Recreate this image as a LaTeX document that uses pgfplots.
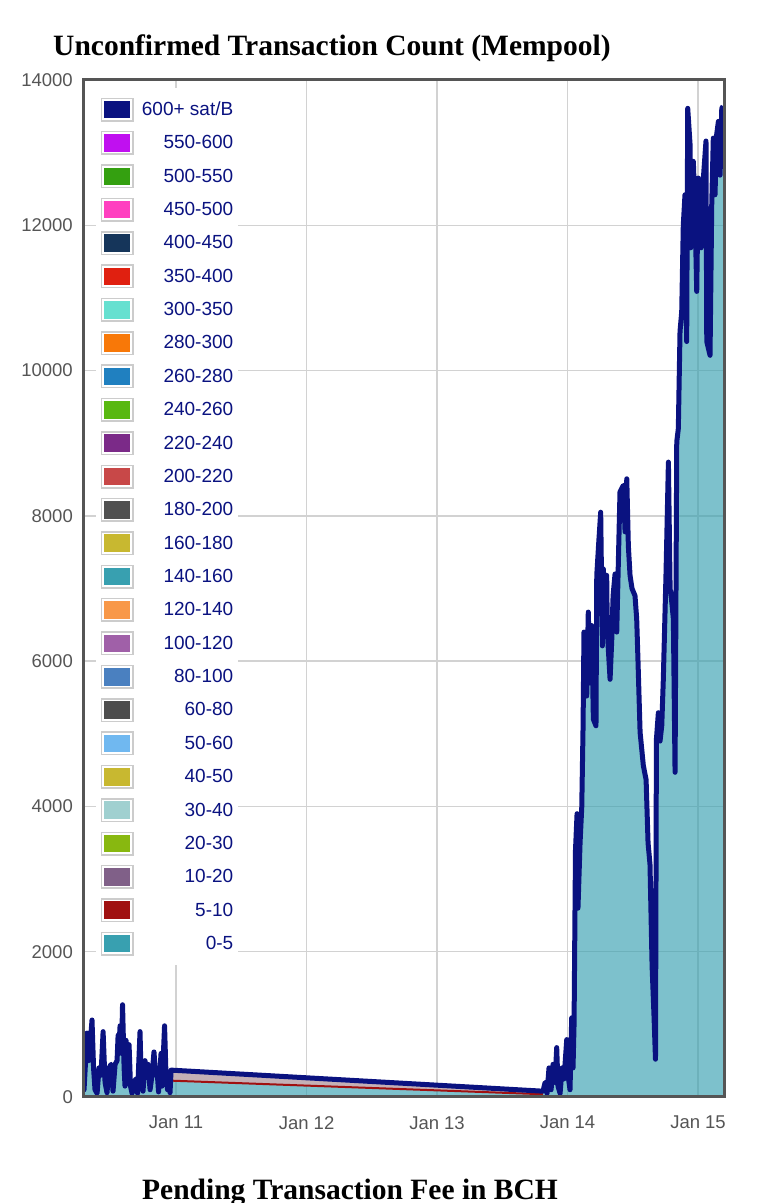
\documentclass[border=0pt]{standalone}
\usepackage{fontspec}
\setmainfont{Liberation Sans}
\newfontfamily\serifb{Liberation Serif}
\usepackage{pgfplots}
\usepackage{pgfplotstable}
\pgfplotsset{compat=1.18}

\definecolor{navy}{HTML}{0A1280}
\definecolor{tickgray}{HTML}{555555}
\definecolor{gridgray}{HTML}{D2D2D2}
\definecolor{framegray}{HTML}{555555}
\definecolor{bandc}{HTML}{C4B0B6}
\definecolor{cA}{HTML}{0A1280}
\definecolor{cB}{HTML}{C010F0}
\definecolor{cC}{HTML}{34A010}
\definecolor{cD}{HTML}{FF40C0}
\definecolor{cE}{HTML}{15355A}
\definecolor{cF}{HTML}{E02010}
\definecolor{cG}{HTML}{66E0D0}
\definecolor{cH}{HTML}{F87808}
\definecolor{cI}{HTML}{2080C0}
\definecolor{cJ}{HTML}{58B810}
\definecolor{cK}{HTML}{7B2A88}
\definecolor{cL}{HTML}{C84848}
\definecolor{cM}{HTML}{505050}
\definecolor{cN}{HTML}{C8B830}
\definecolor{cO}{HTML}{38A0B0}
\definecolor{cP}{HTML}{F89848}
\definecolor{cQ}{HTML}{A060A8}
\definecolor{cR}{HTML}{4A80C0}
\definecolor{cS}{HTML}{4D4D4D}
\definecolor{cT}{HTML}{70B8F0}
\definecolor{cU}{HTML}{C8B830}
\definecolor{cV}{HTML}{A0D0D0}
\definecolor{cW}{HTML}{88B810}
\definecolor{cX}{HTML}{806088}
\definecolor{cY}{HTML}{A01010}
\definecolor{cZ}{HTML}{38A0B0}

\pgfplotsset{
  lgbox/.style={legend image code/.code={
      \path[draw=none, fill=none] (0pt,-16.68pt) rectangle (33pt,16.68pt);
      \path[draw=black!20, line width=1.5pt, fill=white] (0.75pt,-11.25pt) rectangle (32.25pt,11.25pt);
      \path[draw=none, fill=#1] (3.5pt,-8.8pt) rectangle (29.5pt,8.8pt);
  }}
}

% total mempool count (x in days, Jan 11 = 11)
\pgfplotstableread{
x y
10.287 100
10.295 100
10.310 600
10.318 880
10.330 500
10.341 700
10.356 1060
10.368 400
10.379 100
10.395 50
10.410 400
10.425 300
10.441 900
10.456 200
10.471 60
10.487 400
10.502 450
10.517 80
10.533 450
10.548 500
10.556 850
10.563 700
10.571 980
10.582 600
10.590 1270
10.602 400
10.609 150
10.617 780
10.628 400
10.640 720
10.651 150
10.663 50
10.678 200
10.693 250
10.705 50
10.724 900
10.732 300
10.747 80
10.762 500
10.778 300
10.785 450
10.801 100
10.816 300
10.831 620
10.843 300
10.854 380
10.866 70
10.885 600
10.893 150
10.912 980
10.923 300
10.935 100
10.946 200
10.954 60
10.962 370
13.812 80
13.828 200
13.843 50
13.858 400
13.874 100
13.889 450
13.904 200
13.917 680
13.927 150
13.943 50
13.958 400
13.973 250
13.994 790
14.004 300
14.019 100
14.032 1090
14.042 400
14.050 1000
14.061 3400
14.073 3900
14.080 2600
14.096 3500
14.109 3990
14.119 5100
14.126 6400
14.147 5520
14.159 6675
14.172 5700
14.185 6490
14.198 5200
14.218 5110
14.224 7180
14.238 7600
14.254 8050
14.267 6210
14.274 7270
14.287 6900
14.300 7180
14.305 6400
14.326 5750
14.339 6300
14.349 6900
14.364 7200
14.377 6400
14.402 8330
14.428 8420
14.441 7780
14.454 8510
14.466 7590
14.479 7180
14.494 7000
14.517 6900
14.530 6580
14.540 6000
14.556 5020
14.581 4560
14.602 4370
14.617 3500
14.632 3200
14.648 1800
14.663 1100
14.674 520
14.681 4920
14.696 5290
14.709 4900
14.722 5110
14.734 5750
14.755 7230
14.773 8740
14.786 7000
14.799 6810
14.811 6580
14.824 4470
14.837 9020
14.849 9200
14.862 10540
14.875 10810
14.887 12000
14.900 12420
14.913 10400
14.921 13610
14.939 13110
14.944 11690
14.964 12880
14.977 12190
14.990 11090
15.002 12650
15.023 11690
15.041 12650
15.061 13160
15.067 10400
15.092 10210
15.105 12280
15.117 13200
15.130 12420
15.143 13250
15.156 13430
15.169 12690
15.182 13610
15.192 13640
}\total

\begin{document}
\begin{tikzpicture}
\useasboundingbox (0,0) rectangle (768pt,1203pt);
\begin{axis}[
    name=ax, at={(83pt,106pt)}, anchor=south west,
    scale only axis, width=641pt, height=1017pt,
    xmin=10.287, xmax=15.199, ymin=0, ymax=14000,
    xtick={11,12,13,14,15},
    xticklabels={Jan 11,Jan 12,Jan 13,Jan 14,Jan 15},
    ytick={0,2000,...,14000},
    scaled y ticks=false,
    /pgf/number format/assume math mode=true,
    /pgf/number format/1000 sep={},
    tick label style={font=\fontsize{18.5}{22}\selectfont, text=tickgray},
    yticklabel style={inner sep=0pt, xshift=-10pt},
    xticklabel style={inner sep=0pt, yshift=-19pt},
    major tick length=0pt,
    grid=major,
    major grid style={draw=gridgray, line width=1.3pt},
    axis line style={draw=none},
    title={\serifb\bfseries Unconfirmed Transaction Count (Mempool)},
    title style={at={(-0.0468,1.0177)}, anchor=base west, inner sep=0pt,
        font=\fontsize{29.5}{34}\selectfont},
    xlabel={\serifb\bfseries Pending Transaction Fee in BCH},
    xlabel style={at={(0.092,-0.1003)}, anchor=base west, inner sep=0pt,
        font=\fontsize{29.5}{34}\selectfont},
    legend style={at={(0,1)}, anchor=north west, xshift=13pt, yshift=-8pt,
        draw=none, fill=white, inner sep=4.7pt, row sep=0pt,
        font=\fontsize{19}{22}\selectfont, text=navy,
        nodes={inner sep=0pt},
        /tikz/every odd column/.append style={column sep=8pt}},
    legend cell align=right,
]

% 0-5 layer (almost everything)
\addplot[forget plot, draw=none, fill=cZ, fill opacity=0.65] table {\total} \closedcycle;
% thin upper layers during the quiet period
\addplot[forget plot, draw=none, fill=bandc] coordinates {(10.962,225) (13.812,38) (13.812,80) (10.962,370)} -- cycle;
\addplot[forget plot, cY, line width=2pt] coordinates {(10.962,225) (13.812,38)};
% top of the stack (600+)
\addplot[forget plot, navy, line width=5pt, line join=round] table {\total};

\addlegendimage{lgbox=cA}\addlegendentry{600+ sat/B}
\addlegendimage{lgbox=cB}\addlegendentry{550-600}
\addlegendimage{lgbox=cC}\addlegendentry{500-550}
\addlegendimage{lgbox=cD}\addlegendentry{450-500}
\addlegendimage{lgbox=cE}\addlegendentry{400-450}
\addlegendimage{lgbox=cF}\addlegendentry{350-400}
\addlegendimage{lgbox=cG}\addlegendentry{300-350}
\addlegendimage{lgbox=cH}\addlegendentry{280-300}
\addlegendimage{lgbox=cI}\addlegendentry{260-280}
\addlegendimage{lgbox=cJ}\addlegendentry{240-260}
\addlegendimage{lgbox=cK}\addlegendentry{220-240}
\addlegendimage{lgbox=cL}\addlegendentry{200-220}
\addlegendimage{lgbox=cM}\addlegendentry{180-200}
\addlegendimage{lgbox=cN}\addlegendentry{160-180}
\addlegendimage{lgbox=cO}\addlegendentry{140-160}
\addlegendimage{lgbox=cP}\addlegendentry{120-140}
\addlegendimage{lgbox=cQ}\addlegendentry{100-120}
\addlegendimage{lgbox=cR}\addlegendentry{80-100}
\addlegendimage{lgbox=cS}\addlegendentry{60-80}
\addlegendimage{lgbox=cT}\addlegendentry{50-60}
\addlegendimage{lgbox=cU}\addlegendentry{40-50}
\addlegendimage{lgbox=cV}\addlegendentry{30-40}
\addlegendimage{lgbox=cW}\addlegendentry{20-30}
\addlegendimage{lgbox=cX}\addlegendentry{10-20}
\addlegendimage{lgbox=cY}\addlegendentry{5-10}
\addlegendimage{lgbox=cZ}\addlegendentry{0-5}
\end{axis}
\draw[line width=3pt, framegray] (ax.south west) rectangle (ax.north east);
\end{tikzpicture}
\end{document}
